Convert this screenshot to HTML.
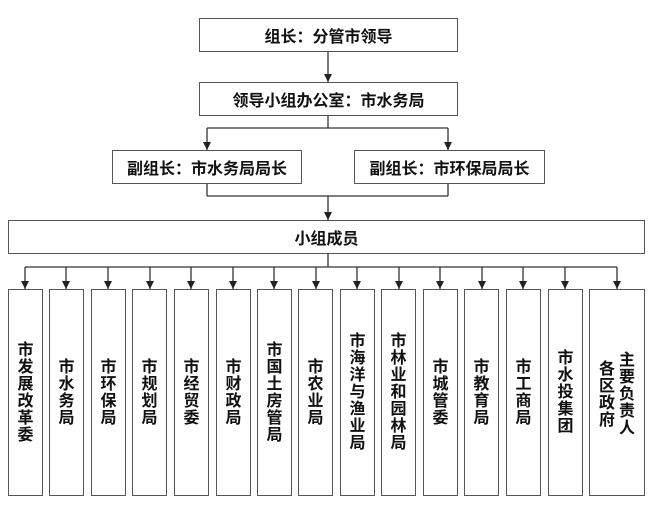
<!DOCTYPE html>
<html><head><meta charset="utf-8"><style>
body{margin:0;background:#fff;}
#c{position:relative;width:655px;height:505px;overflow:hidden;font-family:"Liberation Sans","Noto Sans CJK SC",sans-serif;font-weight:bold;color:#111;}
.b{position:absolute;border:1.5px solid #555;box-sizing:border-box;display:flex;align-items:center;justify-content:center;font-size:16px;background:#fff;}
.v{position:absolute;top:289px;height:207px;border:1.5px solid #555;box-sizing:border-box;display:flex;align-items:center;justify-content:center;font-size:16px;line-height:17px;text-align:center;width:35px;}
.v span{display:block;width:17px;word-break:break-all;}
svg{position:absolute;left:0;top:0;}
</style></head><body><div id="c">
<svg width="655" height="505">
<defs><marker id="a" markerWidth="8" markerHeight="8" refX="8" refY="4" orient="auto" markerUnits="userSpaceOnUse"><path d="M0,0 L8,4 L0,8 z" fill="#222"/></marker></defs>
<g stroke="#333" stroke-width="1.3" fill="none">
<line x1="328" y1="52" x2="328" y2="82" marker-end="url(#a)"/>
<line x1="328" y1="115" x2="328" y2="128"/>
<line x1="207" y1="128" x2="448" y2="128"/>
<line x1="207" y1="128" x2="207" y2="150" marker-end="url(#a)"/>
<line x1="448" y1="128" x2="448" y2="150" marker-end="url(#a)"/>
<line x1="207" y1="184" x2="207" y2="196"/>
<line x1="448" y1="184" x2="448" y2="196"/>
<line x1="207" y1="196" x2="448" y2="196"/>
<line x1="328" y1="196" x2="328" y2="220" marker-end="url(#a)"/>
<line x1="328" y1="253" x2="328" y2="267"/>
<line x1="25" y1="267" x2="617" y2="267"/>
<line x1="25" y1="267" x2="25" y2="289" marker-end="url(#a)"/>
<line x1="66" y1="267" x2="66" y2="289" marker-end="url(#a)"/>
<line x1="108" y1="267" x2="108" y2="289" marker-end="url(#a)"/>
<line x1="150" y1="267" x2="150" y2="289" marker-end="url(#a)"/>
<line x1="191" y1="267" x2="191" y2="289" marker-end="url(#a)"/>
<line x1="233" y1="267" x2="233" y2="289" marker-end="url(#a)"/>
<line x1="274" y1="267" x2="274" y2="289" marker-end="url(#a)"/>
<line x1="316" y1="267" x2="316" y2="289" marker-end="url(#a)"/>
<line x1="357" y1="267" x2="357" y2="289" marker-end="url(#a)"/>
<line x1="399" y1="267" x2="399" y2="289" marker-end="url(#a)"/>
<line x1="440" y1="267" x2="440" y2="289" marker-end="url(#a)"/>
<line x1="482" y1="267" x2="482" y2="289" marker-end="url(#a)"/>
<line x1="523" y1="267" x2="523" y2="289" marker-end="url(#a)"/>
<line x1="565" y1="267" x2="565" y2="289" marker-end="url(#a)"/>
<line x1="617" y1="267" x2="617" y2="289" marker-end="url(#a)"/>
</g></svg>
<div class="b" style="left:199px;top:18px;width:259px;height:34px;">组长：分管市领导</div>
<div class="b" style="left:199px;top:82px;width:259px;height:34px;">领导小组办公室：市水务局</div>
<div class="b" style="left:112px;top:150px;width:190px;height:34px;">副组长：市水务局局长</div>
<div class="b" style="left:354px;top:150px;width:191px;height:34px;">副组长：市环保局局长</div>
<div class="b" style="left:8px;top:220px;width:637px;height:34px;">小组成员</div>
<div class="v" style="left:8px"><span>市发展改革委</span></div>
<div class="v" style="left:49px"><span>市水务局</span></div>
<div class="v" style="left:91px"><span>市环保局</span></div>
<div class="v" style="left:132px"><span>市规划局</span></div>
<div class="v" style="left:174px"><span>市经贸委</span></div>
<div class="v" style="left:216px"><span>市财政局</span></div>
<div class="v" style="left:257px"><span>市国土房管局</span></div>
<div class="v" style="left:298px"><span>市农业局</span></div>
<div class="v" style="left:340px"><span>市海洋与渔业局</span></div>
<div class="v" style="left:381px"><span>市林业和园林局</span></div>
<div class="v" style="left:423px"><span>市城管委</span></div>
<div class="v" style="left:464px"><span>市教育局</span></div>
<div class="v" style="left:506px"><span>市工商局</span></div>
<div class="v" style="left:548px"><span>市水投集团</span></div>
<div class="v" style="left:589px;width:56px;align-items:flex-start;padding-top:62px;gap:3px;"><span style="margin-top:9px">各区政府</span><span>主要负责人</span></div>
</div></body></html>
